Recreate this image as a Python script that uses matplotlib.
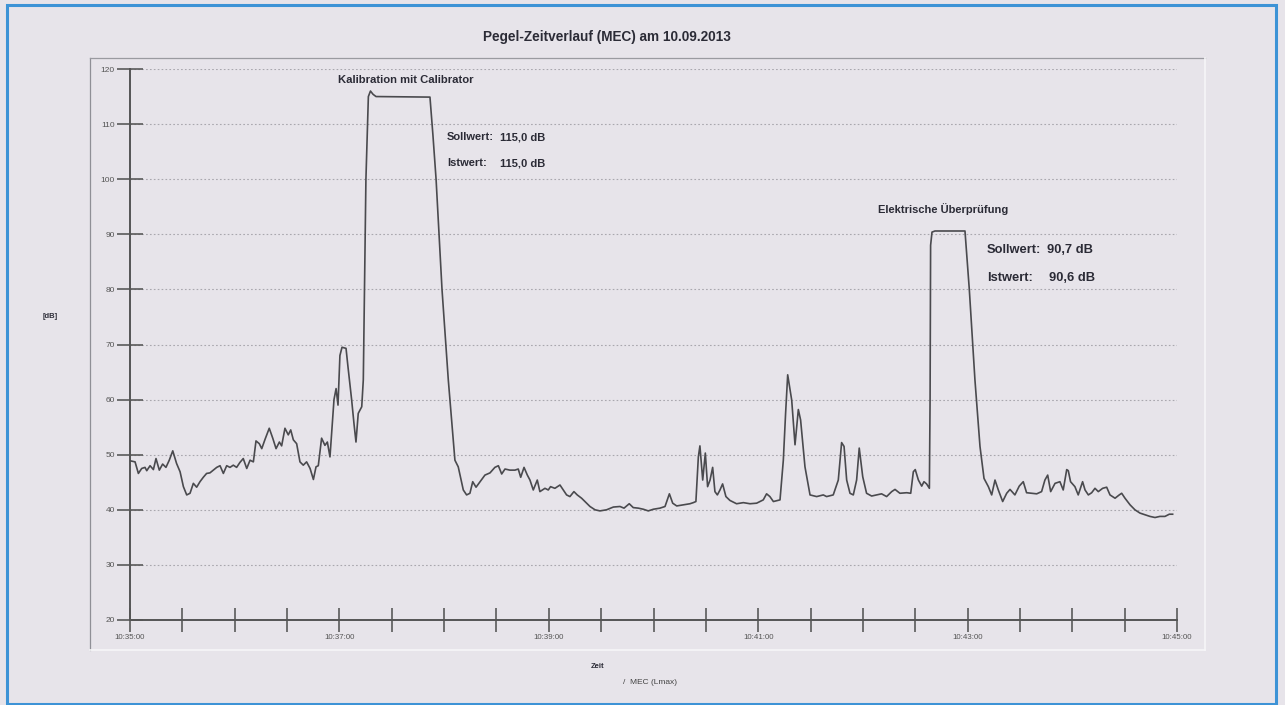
import matplotlib
matplotlib.use('Agg')
import matplotlib.pyplot as plt
from matplotlib.lines import Line2D
from matplotlib.patches import Rectangle
from matplotlib.ticker import FixedLocator

plt.rcParams['font.family'] = ['Liberation Sans', 'DejaVu Sans']

# ---------------- data (seconds after 10:35:00, level in dB) ----------------
time_s = [
    0.0, 2.9, 4.8, 6.7, 8.6, 9.6, 11.5, 13.4, 14.9, 16.8, 18.7, 20.6, 22.5, 24.5,
    26.7, 28.7, 30.6, 32.5, 34.4, 36.3, 38.2, 40.1, 42.0, 43.9, 45.8, 47.8, 49.7,
    51.6, 53.5, 55.4, 57.3, 59.2, 61.1, 63.0, 64.9, 66.9, 68.8, 70.7, 72.2, 74.1,
    75.5, 77.4, 79.8, 81.8, 83.7, 85.6, 86.9, 88.8, 90.7, 92.1, 93.6, 95.5, 97.4,
    99.3, 101.2, 103.2, 105.1, 106.6, 107.9, 109.8, 111.7, 113.1, 114.6,
    116.9, 118.1, 119.2, 120.3, 121.5, 123.8, 124.9, 127.0, 128.4, 129.5, 130.8,
    132.8, 133.7, 135.2, 136.6, 137.8, 139.3, 141.0, 171.9, 173.6, 175.4, 178.8,
    182.4,
    186.2, 188.1, 191.0, 192.9, 194.8, 196.4, 198.3, 200.6, 203.4, 206.3, 209.1,
    211.1, 213.0, 214.9, 217.7, 220.6, 222.5, 223.9, 225.8, 227.7, 229.2, 231.1,
    233.4, 234.9, 237.8, 239.7, 241.0, 243.5, 246.4, 248.3, 250.2, 252.1, 254.4,
    256.3, 258.8, 261.7, 263.6, 266.5, 269.3, 273.1, 277.0, 280.8, 283.1, 286.1,
    288.4, 291.3, 294.2, 297.0, 299.9, 303.7, 306.6, 307.9, 309.1, 311.0, 313.3,
    317.1, 320.9, 322.8, 324.3, 325.7, 326.6, 328.2, 329.7, 331.0, 332.4, 333.9,
    335.2, 336.6, 338.1, 339.6, 341.5, 343.8, 347.6, 351.5, 355.3, 359.1, 362.9,
    364.8, 366.7, 368.7, 372.5, 374.4, 375.7, 376.9, 379.2, 381.1, 383.0, 384.3,
    386.8, 389.7, 393.5, 397.3,
    399.2, 403.0, 405.9, 407.8, 409.2, 410.7, 412.6, 414.5, 416.4, 417.9, 419.9,
    422.1, 425.0, 427.9, 430.7, 433.6, 436.5, 438.4, 441.2, 445.1, 447.4, 448.9,
    450.0, 451.8, 453.7, 455.0, 456.5, 458.1, 458.5, 458.8, 459.6, 461.3, 478.5,
    481.0, 484.2, 487.1,
    489.4, 491.9, 493.8, 495.7, 497.6, 500.1, 502.4, 504.3, 507.1, 509.6, 511.9,
    513.8, 516.7, 519.6, 522.4, 524.3, 525.9, 527.6, 530.1, 532.9, 534.8, 536.8,
    537.7, 539.0, 541.5, 543.4, 545.9, 547.3, 549.2, 551.1, 553.0, 554.9, 557.4,
    559.7, 561.6, 564.5, 566.9, 568.3, 570.2, 573.1, 575.9, 578.8, 581.6, 584.5,
    587.4, 590.2, 593.1, 595.6, 597.5,
]
level_db = [
    48.9, 48.7, 46.6, 47.5, 47.7, 47.1, 48.0, 47.3, 49.3, 47.2, 48.3, 47.7, 49.0, 50.7,
    48.4, 46.9, 44.2, 42.7, 43.0, 44.8, 44.1, 45.1, 45.9, 46.6, 46.7, 47.2, 47.7,
    48.0, 46.6, 48.0, 47.7, 48.1, 47.7, 48.6, 49.3, 47.5, 49.0, 48.7, 52.5, 52.0,
    51.1, 52.8, 54.8, 53.0, 51.1, 52.3, 51.6, 54.8, 53.6, 54.5, 52.7, 52.0, 48.7,
    48.1, 48.7, 47.5, 45.5, 47.8, 48.0, 53.0, 51.7, 52.3, 49.6,
    60.0, 62.0, 59.0, 68.0, 69.5, 69.3, 66.0, 60.0, 55.5, 52.3, 57.5,
    58.7, 63.6, 100.0, 115.0, 116.0, 115.4, 115.0, 114.9, 108.0, 100.0, 80.0,
    63.6,
    49.0, 47.8, 43.6, 42.7, 43.0, 45.1, 44.1, 45.1, 46.3, 46.7, 47.7,
    48.0, 46.5, 47.4, 47.2, 47.2, 47.4, 45.9, 47.7, 46.3, 45.4, 43.6,
    45.4, 43.3, 43.9, 43.6, 44.2, 43.9, 44.5, 43.6, 42.7, 42.4, 43.3,
    42.7, 42.1, 41.2, 40.6, 40.0, 39.8, 40.0, 40.5, 40.6, 40.3, 41.1,
    40.4, 40.3, 40.1, 39.8, 40.1, 40.3, 40.6, 41.8, 42.9, 41.2, 40.7,
    40.9, 41.1, 41.3, 41.5, 49.6, 51.6, 45.4, 50.3, 44.2, 45.4, 47.7,
    43.3, 42.7, 43.6, 44.7, 42.4, 41.7, 41.1, 41.3, 41.1, 41.2, 41.8,
    42.9, 42.4, 41.5, 41.8, 49.0, 57.5, 64.5, 59.9, 51.8, 58.2, 56.3,
    47.8, 42.7, 42.4, 42.7,
    42.4, 42.7, 45.4, 52.2, 51.5, 45.4, 43.0, 42.7, 45.4, 51.2, 46.0,
    43.0, 42.5, 42.7, 42.9, 42.4, 43.3, 43.7, 43.0, 43.1, 43.0, 46.9,
    47.3, 45.4, 44.3, 45.1, 44.7, 43.9, 60.0, 88.0, 90.4, 90.6, 90.6,
    79.9, 63.6, 51.5,
    45.7, 44.2, 42.7, 45.4, 43.6, 41.5, 43.0, 43.7, 42.7, 44.3, 45.1,
    43.1, 43.0, 42.9, 43.3, 45.4, 46.3, 43.3, 44.8, 45.1, 43.6, 47.3,
    47.1, 45.1, 44.2, 42.7, 45.1, 43.6, 42.7, 43.1, 43.9, 43.3, 43.9,
    44.1, 42.7, 42.1, 42.7, 43.0, 42.1, 40.9, 40.0, 39.4, 39.1, 38.8,
    38.6, 38.8, 38.8, 39.2, 39.2,
]

y_ticks = [20, 30, 40, 50, 60, 70, 80, 90, 100, 110, 120]
x_major_s = [0, 120, 240, 360, 480, 600]
x_minor_s = [30, 60, 90, 150, 180, 210, 270, 300, 330, 390, 420, 450, 510, 540, 570]
x_tick_labels = ['10:35:00', '10:37:00', '10:39:00', '10:41:00', '10:43:00', '10:45:00']

title = 'Pegel-Zeitverlauf (MEC) am 10.09.2013'
cal_title = 'Kalibration mit Calibrator'
cal_soll = '115,0 dB'
cal_ist = '115,0 dB'
el_title = 'Elektrische Überprüfung'
el_soll = '90,7 dB'
el_ist = '90,6 dB'

# ---------------- figure ----------------
W, H = 1285, 705
BG = '#e7e4ea'
INK = '#2b2b36'
AX = '#555555'

fig = plt.figure(figsize=(W / 100, H / 100), dpi=100, facecolor=BG)


def fx(x):
    return x / W


def fy(y):
    return 1 - y / H


# outer blue frame
fig.add_artist(Rectangle((fx(7), fy(704)), fx(1276) - fx(7), fy(5) - fy(704),
                         transform=fig.transFigure, fill=False,
                         edgecolor='#3d93d6', linewidth=2.2))
# inner panel border (grey top/left, white bottom/right)
fig.add_artist(Line2D([fx(90), fx(90)], [fy(650), fy(58)], transform=fig.transFigure,
                      color='#8f8f96', lw=0.9))
fig.add_artist(Line2D([fx(90), fx(1205)], [fy(58), fy(58)], transform=fig.transFigure,
                      color='#9a9aa0', lw=0.9))
fig.add_artist(Line2D([fx(1205), fx(1205)], [fy(58), fy(650)], transform=fig.transFigure,
                      color='#f6f6f8', lw=1.2))
fig.add_artist(Line2D([fx(90), fx(1205)], [fy(650), fy(650)], transform=fig.transFigure,
                      color='#f6f6f8', lw=1.2))

ax = fig.add_axes([fx(130), fy(620), fx(1177) - fx(130), fy(69) - fy(620)])
ax.set_facecolor('none')
ax.plot(time_s, level_db, color='#4a4a4e', lw=1.2, zorder=3)
ax.set_xlim(0, 600)
ax.set_ylim(20, 120)

ax.yaxis.set_major_locator(FixedLocator(y_ticks))
ax.set_yticklabels([str(v) for v in y_ticks])
ax.xaxis.set_major_locator(FixedLocator(x_major_s))
ax.xaxis.set_minor_locator(FixedLocator(x_minor_s))
ax.set_xticklabels(x_tick_labels)

for s in ['top', 'right']:
    ax.spines[s].set_visible(False)
for s in ['left', 'bottom']:
    ax.spines[s].set_color(AX)
    ax.spines[s].set_linewidth(1.4)

ax.tick_params(axis='x', which='both', direction='inout', length=17.5, width=1.2,
               color='#5a5a5a', labelsize=5.7, labelcolor='#555555', pad=1.5)
ax.tick_params(axis='y', which='major', direction='inout', length=19, width=1.2,
               color='#5a5a5a', labelsize=6, labelcolor='#555555', pad=1.5)

ax.yaxis.grid(True, linestyle=(0, (1.5, 2)), color='#a9a7ae', lw=0.8, zorder=0)
ax.set_axisbelow(True)

# texts
fig.text(fx(607), fy(37), title, ha='center', va='center', fontsize=9.8,
         fontweight='bold', color=INK)
fig.text(fx(50), fy(316), '[dB]', ha='center', va='center', fontsize=5.5,
         fontweight='bold', color=INK)
fig.text(fx(598), fy(667), 'Zeit', ha='center', va='center', fontsize=5.5,
         fontweight='bold', color=INK)
fig.text(fx(623), fy(682), '/  MEC (Lmax)', ha='left', va='center', fontsize=6,
         color='#444444')

fig.text(fx(338), fy(80), cal_title, ha='left', va='center', fontsize=8.1,
         fontweight='bold', color=INK)
fig.text(fx(447), fy(137), 'Sollwert:', ha='left', va='center', fontsize=8.0,
         fontweight='bold', color=INK)
fig.text(fx(500), fy(137), cal_soll, ha='left', va='center', fontsize=8.0,
         fontweight='bold', color=INK)
fig.text(fx(447), fy(163), 'Istwert:', ha='left', va='center', fontsize=8.0,
         fontweight='bold', color=INK)
fig.text(fx(500), fy(163), cal_ist, ha='left', va='center', fontsize=8.0,
         fontweight='bold', color=INK)

fig.text(fx(878), fy(209), el_title, ha='left', va='center', fontsize=8,
         fontweight='bold', color=INK)
fig.text(fx(987), fy(250), 'Sollwert:', ha='left', va='center', fontsize=9.3,
         fontweight='bold', color=INK)
fig.text(fx(1047), fy(250), el_soll, ha='left', va='center', fontsize=9.3,
         fontweight='bold', color=INK)
fig.text(fx(987), fy(278), 'Istwert:', ha='left', va='center', fontsize=9.3,
         fontweight='bold', color=INK)
fig.text(fx(1049), fy(278), el_ist, ha='left', va='center', fontsize=9.3,
         fontweight='bold', color=INK)

fig.savefig('out.png', dpi=100, facecolor=BG)
